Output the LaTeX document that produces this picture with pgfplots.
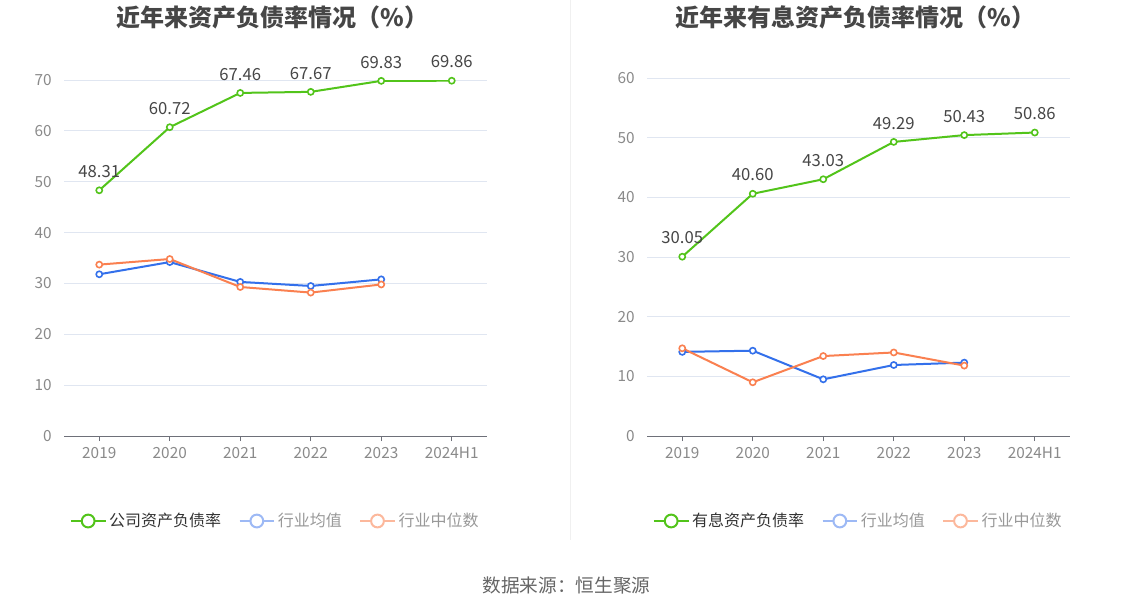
\documentclass[border=0pt]{standalone}
\usepackage{pgfplots}
\pgfplotsset{compat=1.18}
\usepackage{fontspec}
\setmainfont{Noto Sans CJK SC}
\definecolor{cgreen}{HTML}{52C41A}
\definecolor{cblue}{HTML}{3370EB}
\definecolor{corange}{HTML}{FA8050}
\definecolor{lblue}{HTML}{9DB9F5}
\definecolor{lorange}{HTML}{FCB89C}
\definecolor{gridc}{HTML}{E0E6F1}
\definecolor{axisc}{HTML}{6E7079}
\definecolor{tickc}{HTML}{8A8A8A}
\definecolor{titlec}{HTML}{464646}
\definecolor{labc}{HTML}{464646}

\pgfplotstableread{
x a b c
0 48.31 31.8 33.7
1 60.72 34.2 34.8
2 67.46 30.3 29.3
3 67.67 29.5 28.2
4 69.83 30.8 29.8
5 69.86 nan nan
}\leftdata
\pgfplotstableread{
x a b c
0 30.05 14.1 14.7
1 40.60 14.3 9.0
2 43.03 9.5 13.4
3 49.29 11.9 14.0
4 50.43 12.3 11.8
5 50.86 nan nan
}\rightdata

\pgfplotsset{
  mystyle/.style={
    scale only axis,
    width=317.25pt,
    xmin=-0.5, xmax=5.5,
    ymin=0,
    xtick={0,1,2,3,4,5},
    xticklabels={2019,2020,2021,2022,2023,2024H1},
    axis x line*=bottom,
    axis y line*=left,
    y axis line style={draw=none},
    x axis line style={draw=axisc, line width=0.75pt},
    ytick style={draw=none},
    xtick style={draw=axisc, line width=0.75pt},
    tick align=outside,
    major tick length=3.75pt,
    ymajorgrids,
    grid style={gridc, line width=0.75pt},
    tick label style={font=\fontsize{11.5pt}{13pt}\selectfont, text=tickc},
    /pgf/number format/assume math mode=true,
    yticklabel style={xshift=-2pt},
    xticklabel style={yshift=-1.5pt},
    legend columns=3,
    legend style={draw=none, fill=none, font=\fontsize{12pt}{14pt}\selectfont,
      /tikz/every even column/.append style={column sep=11pt}, anchor=center},
    legend cell align=left,
    unbounded coords=jump,
  },
  mainline/.style={cgreen, line width=1.5pt, mark=*, mark size=2.3pt,
    mark options={fill=white, draw=cgreen, line width=1.2pt},
    nodes near coords,
    nodes near coords style={font=\fontsize{12.5pt}{14pt}\selectfont, text=labc, anchor=south, yshift=5.5pt,
      /pgf/number format/.cd, fixed, fixed zerofill, precision=2, assume math mode=true}},
  subline/.style={#1, line width=1.5pt, mark=*, mark size=2.3pt,
    mark options={fill=white, draw=#1, line width=1.2pt}},
  legline/.style={legend image code/.code={
    \draw[#1, line width=1.5pt] (-2pt,0pt) -- (24pt,0pt);
    \draw[#1, fill=white, line width=1.5pt] (11pt,0pt) circle (4.8pt);}},
}

\begin{document}
\begin{tikzpicture}
\useasboundingbox[fill=white] (0,0) rectangle (850.5pt,459pt);
\draw[color=gray!12, line width=0.75pt] (427.5pt,459pt) -- (427.5pt,54pt);

\begin{axis}[mystyle, at={(48pt,132pt)}, anchor=south west,
  height=267pt, ymax=70, ytick={0,10,...,70},
  legend style={at={(0.5,-0.2388)}}]
\addplot[mainline, forget plot] table[x=x,y=a]{\leftdata};
\addplot[subline=cblue, forget plot] table[x=x,y=b]{\leftdata};
\addplot[subline=corange, forget plot] table[x=x,y=c]{\leftdata};
\addlegendimage{legline=cgreen}
\addlegendentry{\textcolor[HTML]{333333}{公司资产负债率}}
\addlegendimage{legline=lblue}
\addlegendentry{\textcolor[HTML]{999999}{行业均值}}
\addlegendimage{legline=lorange}
\addlegendentry{\textcolor[HTML]{999999}{行业中位数}}
\end{axis}

\begin{axis}[mystyle, at={(485.25pt,132pt)}, anchor=south west,
  height=268.5pt, ymax=60, ytick={0,10,...,60},
  legend style={at={(0.5,-0.2374)}}]
\addplot[mainline, forget plot] table[x=x,y=a]{\rightdata};
\addplot[subline=cblue, forget plot] table[x=x,y=b]{\rightdata};
\addplot[subline=corange, forget plot] table[x=x,y=c]{\rightdata};
\addlegendimage{legline=cgreen}
\addlegendentry{\textcolor[HTML]{333333}{有息资产负债率}}
\addlegendimage{legline=lblue}
\addlegendentry{\textcolor[HTML]{999999}{行业均值}}
\addlegendimage{legline=lorange}
\addlegendentry{\textcolor[HTML]{999999}{行业中位数}}
\end{axis}

\node[font=\fontsize{18pt}{21pt}\selectfont\bfseries, text=titlec] at (204.5pt,446pt) {近年来资产负债率情况（\%）};
\node[font=\fontsize{18pt}{21pt}\selectfont\bfseries, text=titlec] at (641.5pt,446pt) {近年来有息资产负债率情况（\%）};
\node[font=\fontsize{14pt}{16pt}\selectfont, text=black!60] at (424.9pt,20.25pt) {数据来源：恒生聚源};
\end{tikzpicture}
\end{document}
